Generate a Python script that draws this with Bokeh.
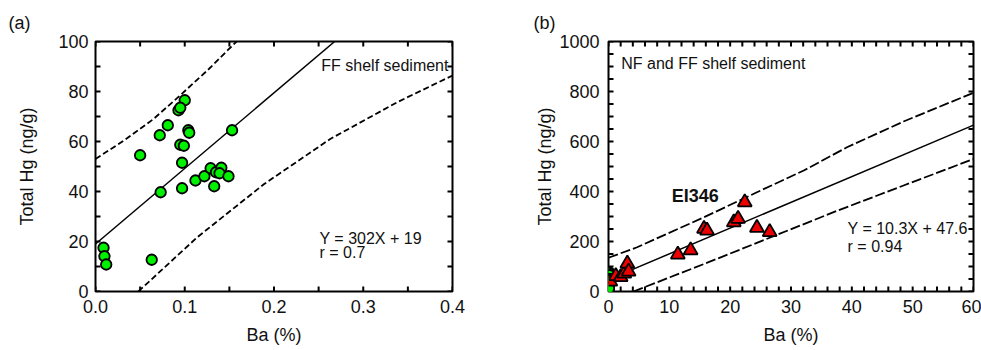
from bokeh.plotting import figure
from bokeh.layouts import row
from bokeh.models import (Label, Range1d, SingleIntervalTicker, NumeralTickFormatter)
from bokeh.embed import file_html
from bokeh.resources import INLINE

FONT = "Liberation Sans"
INK = "#111111"
GREEN = "#00f000"
RED = "#ee0000"

# ---------------- Panel (a): FF shelf sediment ----------------
ba_a = [0.100, 0.093, 0.095, 0.081, 0.072, 0.104, 0.105, 0.095, 0.099, 0.050,
        0.097, 0.153, 0.073, 0.097, 0.112, 0.122, 0.129, 0.135, 0.141, 0.139,
        0.149, 0.133, 0.009, 0.010, 0.012, 0.063]
hg_a = [76.5, 72.5, 73.5, 66.5, 62.5, 64.5, 63.5, 58.7, 58.3, 54.5,
        51.5, 64.5, 39.7, 41.3, 44.4, 46.1, 49.3, 47.7, 49.5, 47.3,
        46.1, 42.1, 17.5, 14.1, 10.8, 12.7]
fit_a_ba = [0.0, 0.268]
fit_a_hg = [19.0, 100.0]
upper_a_ba = [0.0, 0.032, 0.065, 0.095, 0.127, 0.158]
upper_a_hg = [53.0, 60.4, 69.0, 78.5, 89.0, 100.0]
lower_a_ba = [0.048, 0.114, 0.189, 0.263, 0.338, 0.400]
lower_a_hg = [0.0, 21.7, 43.0, 61.0, 75.7, 86.4]
tick_x_a = [0.0, 0.05, 0.1, 0.15, 0.2, 0.25, 0.3, 0.35, 0.4]
tick_y_a = [0, 10, 20, 30, 40, 50, 60, 70, 80, 90, 100]

# ---------------- Panel (b): NF and FF shelf sediment ----------------
ba_b = [0.3, 1.2, 2.0, 2.6, 3.1, 3.3, 11.4, 13.5, 15.7, 16.2,
        20.6, 21.3, 22.4, 24.4, 26.5]
hg_b = [40, 62, 58, 72, 112, 80, 148, 165, 251, 244,
        277, 291, 357, 255, 238]
fit_b_ba = [0.0, 60.0]
fit_b_hg = [47.6, 665.6]
upper_b_ba = [0.0, 4.7, 15.7, 24.4, 32.1, 39.2, 48.5, 60.0]
upper_b_hg = [135, 177, 297, 397, 484, 577, 680, 795]
lower_b_ba = [4.1, 10.1, 15.7, 26.7, 37.7, 48.5, 60.0]
lower_b_hg = [0, 57, 110, 217, 324, 424, 530]
tick_x_b = list(range(0, 61, 2))
tick_y_b = list(range(0, 1001, 50))

FRAME_W = {"a": 357, "b": 365}
FRAME_H = 250
TICK_PX = 5


def style_axis(ax):
    ax.axis_line_color = None
    ax.major_tick_in = 0
    ax.major_tick_out = 0
    ax.minor_tick_in = 0
    ax.minor_tick_out = 0
    ax.major_label_text_font = FONT
    ax.major_label_text_font_size = "18px"
    ax.major_label_text_color = INK
    ax.axis_label_text_font = FONT
    ax.axis_label_text_font_size = "18px"
    ax.axis_label_text_font_style = "normal"
    ax.axis_label_text_color = INK


def make_fig(width, left, right, xr, yr, xint, yint, xfmt, title, title_offset,
             ylab_standoff, ytick_standoff):
    p = figure(width=width, height=350, x_range=Range1d(*xr), y_range=Range1d(*yr),
               output_backend="svg", toolbar_location=None, title=title,
               min_border_left=left, min_border_right=right,
               min_border_top=41, min_border_bottom=59,
               x_axis_label="Ba (%)", y_axis_label="Total Hg (ng/g)")
    p.grid.visible = False
    p.outline_line_color = "black"
    p.outline_line_width = 2
    p.background_fill_color = "white"
    p.border_fill_color = "white"

    p.xaxis.ticker = SingleIntervalTicker(interval=xint)
    p.yaxis.ticker = SingleIntervalTicker(interval=yint)
    if xfmt:
        p.xaxis.formatter = NumeralTickFormatter(format=xfmt)
    for ax in p.xaxis:
        style_axis(ax)
        ax.major_label_standoff = 8
        ax.axis_label_standoff = 9
    for ax in p.yaxis:
        style_axis(ax)
        ax.major_label_standoff = ytick_standoff
        ax.axis_label_standoff = ylab_standoff

    p.title.align = "left"
    p.title.offset = title_offset
    p.title.text_font = FONT
    p.title.text_font_size = "18px"
    p.title.text_font_style = "normal"
    p.title.text_color = INK
    p.title.standoff = 18
    return p


def add_frame_ticks(p, xr, yr, xticks, yticks, frame_w):
    # short inward tick marks on all four sides of the frame
    lx = (xr[1] - xr[0]) / frame_w * TICK_PX
    ly = (yr[1] - yr[0]) / FRAME_H * TICK_PX
    kw = dict(line_color="black", line_width=2)
    nx, ny = len(xticks), len(yticks)
    p.segment(x0=xticks, y0=[yr[0]] * nx, x1=xticks, y1=[yr[0] + ly] * nx, **kw)
    p.segment(x0=xticks, y0=[yr[1]] * nx, x1=xticks, y1=[yr[1] - ly] * nx, **kw)
    p.segment(x0=[xr[0]] * ny, y0=yticks, x1=[xr[0] + lx] * ny, y1=yticks, **kw)
    p.segment(x0=[xr[1]] * ny, y0=yticks, x1=[xr[1] - lx] * ny, y1=yticks, **kw)


def add_text(p, x, y, text, size="16px", style="normal"):
    p.add_layout(Label(x=x, y=y, text=text, text_font=FONT, text_font_size=size,
                       text_font_style=style, text_color=INK,
                       text_align="left", text_baseline="middle"))


# ---- Figure (a)
xr_a, yr_a = (0, 0.4), (0, 100)
pa = make_fig(500, 95, 48, xr_a, yr_a, 0.1, 20, "0.0", "(a)", -87, 18, 7)
add_frame_ticks(pa, xr_a, yr_a, tick_x_a, tick_y_a, FRAME_W["a"])
pa.line(upper_a_ba, upper_a_hg, line_color="black", line_width=1.8, line_dash="6 3")
pa.line(lower_a_ba, lower_a_hg, line_color="black", line_width=1.8, line_dash="6 3")
pa.line(fit_a_ba, fit_a_hg, line_color="black", line_width=1.5)
pa.scatter(ba_a, hg_a, marker="circle", size=10.5, fill_color=GREEN,
           line_color="black", line_width=1.8)
add_text(pa, 0.253, 90.4, "FF shelf sediment")
add_text(pa, 0.251, 21.2, "Y = 302X + 19")
add_text(pa, 0.251, 15.6, "r = 0.7")

# ---- Figure (b)
xr_b, yr_b = (0, 60), (0, 1000)
pb = make_fig(481, 108, 8, xr_b, yr_b, 10, 200, None, "(b)", -75, 1, 9)
add_frame_ticks(pb, xr_b, yr_b, tick_x_b, tick_y_b, FRAME_W["b"])
pb.line(upper_b_ba, upper_b_hg, line_color="black", line_width=1.8, line_dash="10 3")
pb.line(lower_b_ba, lower_b_hg, line_color="black", line_width=1.8, line_dash="10 3")
pb.line(fit_b_ba, fit_b_hg, line_color="black", line_width=1.5)
pb.scatter(ba_a, hg_a, marker="circle", size=10.5, fill_color=GREEN,
           line_color="black", line_width=1.8)
pb.scatter(ba_b, hg_b, marker="triangle", size=14, fill_color=RED,
           line_color="black", line_width=1.8)
add_text(pb, 2.1, 912, "NF and FF shelf sediment")
add_text(pb, 10.4, 384, "EI346", size="18px", style="bold")
add_text(pb, 39.3, 252, "Y = 10.3X + 47.6")
add_text(pb, 39.3, 180, "r = 0.94")

layout = row(pa, pb)
open("out.html", "w").write(file_html(layout, INLINE))
